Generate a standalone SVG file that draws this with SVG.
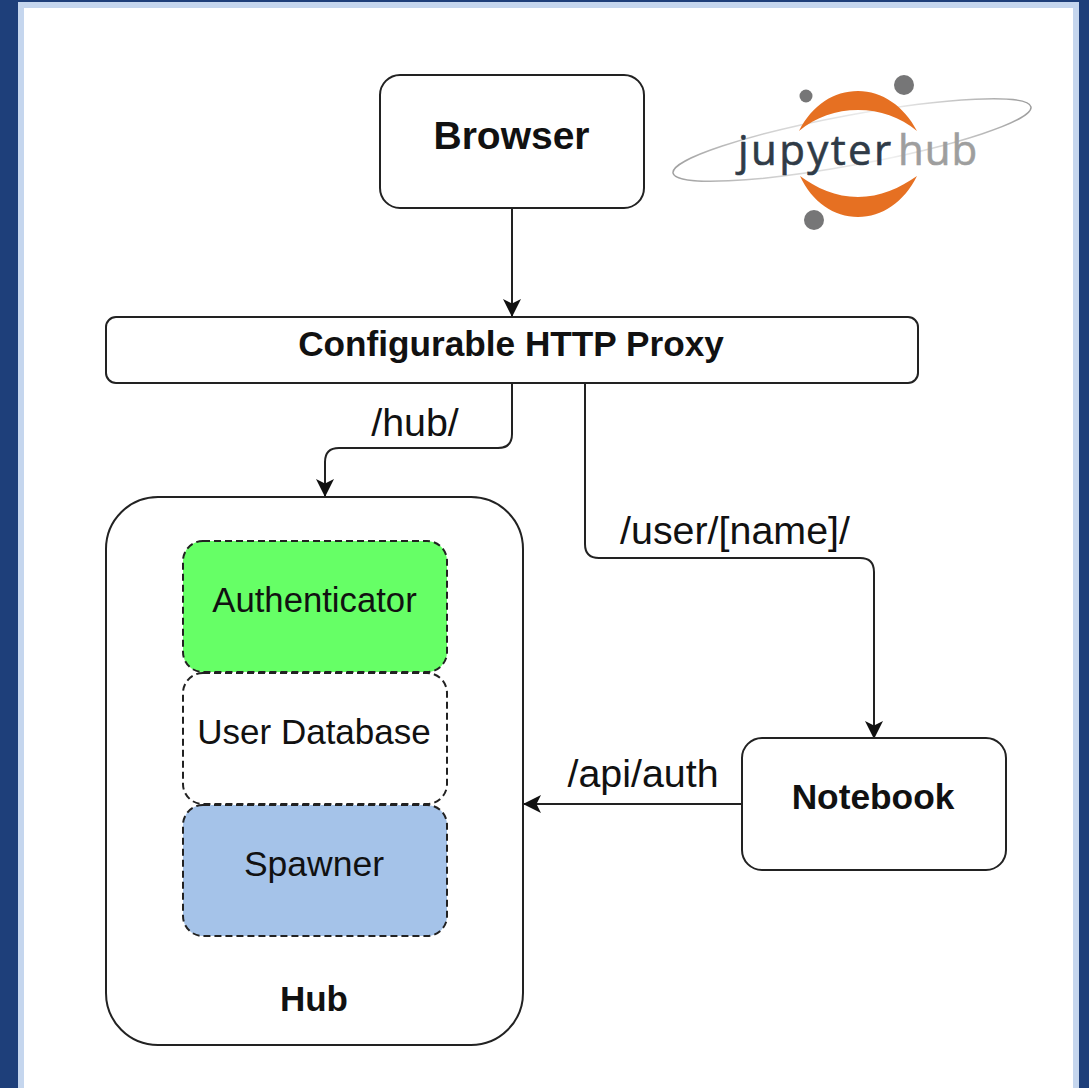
<svg xmlns="http://www.w3.org/2000/svg" width="1089" height="1088" viewBox="0 0 1089 1088">
<style>
.box{fill:#fff;stroke:#222;stroke-width:2}
.dash{stroke:#222;stroke-width:2;stroke-dasharray:7 4}
.b{font-family:"Liberation Sans",Arial,sans-serif;font-weight:700;fill:#111;text-anchor:middle}
.r{font-family:"Liberation Sans",Arial,sans-serif;fill:#111;text-anchor:middle}
.conn{fill:none;stroke:#222;stroke-width:2;marker-end:url(#arrow)}
</style>
<defs>
<marker id="arrow" markerUnits="userSpaceOnUse" markerWidth="20" markerHeight="20" refX="17" refY="9" orient="auto">
<path d="M0 0 L18 9 L0 18 L4.500 9 Z" fill="#111"/>
</marker>
<linearGradient id="ring" x1="0" x2="1" y1="0" y2="0">
<stop offset="0" stop-color="#a0a0a0"/><stop offset=".3" stop-color="#d4d4d4"/><stop offset=".6" stop-color="#efefef"/><stop offset="1" stop-color="#9c9c9c"/>
</linearGradient>
</defs>
<rect width="1089" height="1088" fill="#1e3f7a"/>
<rect x="18" y="2" width="1061" height="1086" fill="#c5d6ee"/>
<rect x="24" y="8" width="1049" height="1080" fill="#fff"/>
<g id="logo">
<ellipse cx="852" cy="140" rx="182" ry="25" transform="rotate(-10.500 852 140)" fill="none" stroke="url(#ring)" stroke-width="1.500"/>
<path d="M799 131 C812 105 834 91 858 91 C882 91 904 106 917 131 C900 117 880 110 858 110 C836 110 816 117 799 131 Z" fill="#e67022"/>
<path d="M800 176 C816 188 836 197 858 197 C880 197 900 188 917 176 C904 202 882 217 858 217 C834 217 812 202 800 176 Z" fill="#e67022"/>
<circle cx="806" cy="96" r="6.500" fill="#767677"/>
<circle cx="904" cy="85" r="10" fill="#767677"/>
<circle cx="814" cy="220" r="10" fill="#767677"/>
<text x="738" y="165" font-family="'Open Sans',sans-serif" font-size="42" fill="#2f3b47" stroke="#2f3b47" stroke-width=".6" letter-spacing="2.400">jupyter</text>
<text x="898" y="165" font-family="'Open Sans',sans-serif" font-size="42" fill="#9e9e9e" stroke="#9e9e9e" stroke-width=".6" letter-spacing="1">hub</text>
</g>
<g id="connectors">
<path class="conn" d="M512 208 V316"/>
<path class="conn" d="M512 383 V434 Q512 448 498 448 H339 Q325 448 325 462 V496"/>
<path class="conn" d="M585 383 V544 Q585 558 599 558 H860 Q874 558 874 572 V738"/>
<path class="conn" d="M742 804 H524"/>
<text class="r" x="415" y="436" font-size="39.400">/hub/</text>
<text class="r" x="735" y="544" font-size="39.400">/user/[name]/</text>
<text class="r" x="643" y="787" font-size="39.400">/api/auth</text>
</g>
<g id="browser"><rect class="box" x="380" y="75" width="264" height="133" rx="20"/><text class="b" x="511.500" y="149" font-size="39">Browser</text></g>
<g id="proxy"><rect class="box" x="106" y="317" width="812" height="66" rx="10"/><text class="b" x="511" y="356" font-size="35.200">Configurable HTTP Proxy</text></g>
<g id="hub"><rect class="box" x="106" y="497" width="417" height="548" rx="52"/><text class="b" x="314" y="1011" font-size="35">Hub</text></g>
<g id="authenticator"><rect class="dash" x="183" y="541" width="264" height="131" rx="20" fill="#66ff66"/><text class="r" x="314.500" y="612" font-size="34.700">Authenticator</text></g>
<g id="userdb"><rect class="dash" x="183" y="673" width="264" height="131" rx="20" fill="#fff"/><text class="r" x="314" y="744" font-size="35">User Database</text></g>
<g id="spawner"><rect class="dash" x="183" y="805" width="264" height="131" rx="20" fill="#a5c3e9"/><text class="r" x="314" y="876" font-size="35.500">Spawner</text></g>
<g id="notebook"><rect class="box" x="742" y="738" width="264" height="132" rx="20"/><text class="b" x="873" y="809" font-size="35.300">Notebook</text></g>
</svg>
